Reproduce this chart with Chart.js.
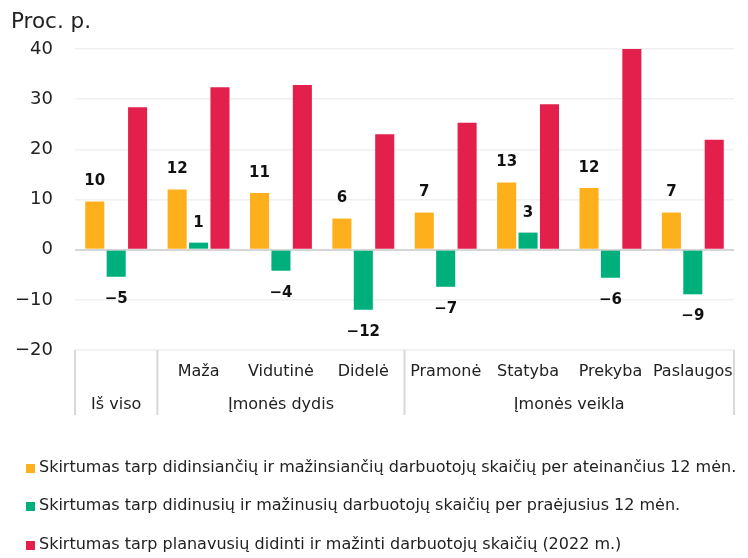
<!DOCTYPE html>
<html>
<head>
<meta charset="utf-8">
<script src="https://cdn.jsdelivr.net/npm/chart.js@4/dist/chart.umd.min.js"></script>
<style>
    html, body { margin: 0; padding: 0; background: #fff; }
    #wrap { width: 748px; height: 558px; }
</style>
</head>
<body>
<div id="wrap"><canvas id="chart" width="748" height="558"></canvas></div>
<script>
var categories = ['Iš viso', 'Maža', 'Vidutinė', 'Didelė', 'Pramonė', 'Statyba', 'Prekyba', 'Paslaugos'];
var groups = [
    { label: 'Iš viso', from: 0, to: 0 },
    { label: 'Įmonės dydis', from: 1, to: 3 },
    { label: 'Įmonės veikla', from: 4, to: 7 }
];
var seriesNames = [
    'Skirtumas tarp didinsiančių ir mažinsiančių darbuotojų skaičių per ateinančius 12 mėn.',
    'Skirtumas tarp didinusių ir mažinusių darbuotojų skaičių per praėjusius 12 mėn.',
    'Skirtumas tarp planavusių didinti ir mažinti darbuotojų skaičių (2022 m.)'
];
var nextYear = [9.6, 12.0, 11.3, 6.2, 7.4, 13.4, 12.3, 7.4];
var pastYear = [-5.4, 1.4, -4.2, -12.0, -7.4, 3.4, -5.6, -8.9];
var planned2022 = [28.4, 32.4, 32.8, 23.0, 25.3, 29.0, 40.0, 21.9];
var colors = ['#fdb01b', '#00b07c', '#e31f4b'];
var yTicks = [-20, -10, 0, 10, 20, 30, 40];

var FONT = '"DejaVu Sans", Verdana, sans-serif';

function minus(v) {
    return String(v).replace('-', '\u2212');
}

// value labels for first two series, axis title, grouped x labels, legend
var extras = {
    id: 'extras',
    afterDatasetsDraw: function (chart) {
        var ctx = chart.ctx;
        ctx.save();
        ctx.fillStyle = '#111';
        ctx.font = 'bold 15px ' + FONT;
        ctx.textAlign = 'center';
        ctx.textBaseline = 'middle';
        [0, 1].forEach(function (di) {
            var meta = chart.getDatasetMeta(di);
            meta.data.forEach(function (bar, i) {
                var v = chart.data.datasets[di].data[i];
                var y = v >= 0 ? bar.y - 20 : bar.y + 22;
                ctx.fillText(minus(Math.round(v)), bar.x, y);
            });
        });
        ctx.restore();
    },
    afterDraw: function (chart) {
        var ctx = chart.ctx;
        var area = chart.chartArea;
        var x = chart.scales.x;
        ctx.save();

        ctx.fillStyle = '#222';
        ctx.font = '21.5px ' + FONT;
        ctx.textAlign = 'left';
        ctx.textBaseline = 'middle';
        ctx.fillText('Proc. p.', 11, 22);

        // category box lines
        var half = (x.getPixelForValue(1) - x.getPixelForValue(0)) / 2;
        ctx.strokeStyle = '#d8d8d8';
        ctx.lineWidth = 2;
        groups.forEach(function (g, gi) {
            var left = x.getPixelForValue(g.from) - half;
            var right = x.getPixelForValue(g.to) + half;
            ctx.beginPath();
            ctx.moveTo(left, area.bottom);
            ctx.lineTo(left, area.bottom + 65);
            if (gi === groups.length - 1) {
                ctx.moveTo(right, area.bottom);
                ctx.lineTo(right, area.bottom + 65);
            }
            ctx.stroke();
        });

        ctx.font = '16px ' + FONT;
        ctx.textAlign = 'center';
        ctx.fillStyle = '#222';
        categories.forEach(function (c, i) {
            if (i === 0) return;
            ctx.fillText(c, x.getPixelForValue(i), area.bottom + 22);
        });
        groups.forEach(function (g) {
            var left = x.getPixelForValue(g.from) - half;
            var right = x.getPixelForValue(g.to) + half;
            ctx.fillText(g.label, (left + right) / 2, area.bottom + 55);
        });

        // legend
        ctx.textAlign = 'left';
        var rows = [468, 506, 545];
        chart.data.datasets.forEach(function (ds, i) {
            ctx.fillStyle = ds.backgroundColor;
            ctx.fillRect(26, rows[i] - 4, 9, 9);
            ctx.fillStyle = '#222';
            ctx.fillText(ds.label, 39, rows[i]);
        });
        ctx.restore();
    }
};

var ctx = document.getElementById('chart').getContext('2d');
var myChart = new Chart(ctx, {
    type: 'bar',
    data: {
        labels: categories,
        datasets: [
            { label: seriesNames[0], data: nextYear, backgroundColor: colors[0] },
            { label: seriesNames[1], data: pastYear, backgroundColor: colors[1] },
            { label: seriesNames[2], data: planned2022, backgroundColor: colors[2] }
        ]
    },
    options: {
        responsive: false,
        animation: false,
        categoryPercentage: 0.78,
        barPercentage: 0.89,
        layout: { padding: { left: 0, right: 14, top: 49, bottom: 143 } },
        plugins: {
            legend: { display: false },
            tooltip: { enabled: false }
        },
        scales: {
            x: {
                grid: { display: false },
                border: { display: false },
                ticks: { display: false },
                afterFit: function (scale) { scale.height = 65; }
            },
            y: {
                min: -20,
                max: 40,
                afterBuildTicks: function (scale) {
                    scale.ticks = yTicks.map(function (v) { return { value: v }; });
                },
                afterFit: function (scale) { scale.width = 75; },
                border: { display: false },
                grid: {
                    drawTicks: false,
                    color: function (c) { return c.tick && c.tick.value === 0 ? '#d6d6d6' : '#f0f0f0'; },
                    lineWidth: function (c) { return c.tick && c.tick.value === 0 ? 2 : 1.5; }
                },
                ticks: {
                    padding: 22,
                    color: '#222',
                    font: { family: FONT, size: 18 },
                    callback: function (v) { return minus(v); }
                }
            }
        }
    },
    plugins: [extras]
});
</script>
</body>
</html>
